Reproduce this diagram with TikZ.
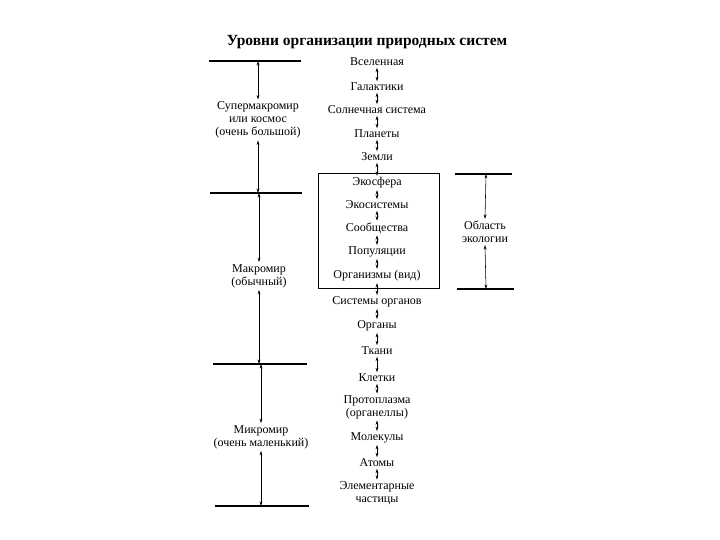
\documentclass[tikz,border=0pt]{standalone}
\usepackage{fontspec}
\setmainfont{Liberation Serif}
\usetikzlibrary{arrows.meta}
\begin{document}
\begin{tikzpicture}[x=1pt,y=-1pt,
  font=\fontsize{12}{13}\selectfont,
  lvl/.style={inner sep=1.5pt, align=center},
  side/.style={inner sep=2pt, align=center},
  link/.style={{Stealth[length=4.5pt,width=2.8pt]}-{Stealth[length=4.5pt,width=2.8pt]}, line width=0.55pt},
  rulel/.style={line width=1.1pt},
  frame/.style={line width=0.9pt}]
\useasboundingbox (0,0) rectangle (720,540);

\node[font=\fontsize{15.5}{17}\selectfont\bfseries] (title) at (367,42) {Уровни организации природных систем};

% right column
\node[lvl] (v1) at (377,62) {Вселенная};
\node[lvl] (v2) at (377,87) {Галактики};
\node[lvl] (v3) at (377,110) {Солнечная система};
\node[lvl] (v4) at (377,134) {Планеты};
\node[lvl] (v5) at (377,157) {Земли};
\node[lvl] (v6) at (377,183) {Экосфера};
\node[lvl] (v7) at (377,205) {Экосистемы};
\node[lvl] (v8) at (377,228) {Сообщества};
\node[lvl] (v9) at (377,252) {Популяции};
\node[lvl] (v10) at (377,276) {Организмы (вид)};
\node[lvl] (v11) at (377,302) {Системы органов};
\node[lvl] (v12) at (377,326) {Органы};
\node[lvl] (v13) at (377,351) {Ткани};
\node[lvl] (v14) at (377,378) {Клетки};
\node[lvl] (v15) at (377,407) {Протоплазма\\(органеллы)};
\node[lvl] (v16) at (377,438) {Молекулы};
\node[lvl] (v17) at (377,463) {Атомы};
\node[lvl] (v18) at (377,493) {Элементарные\\частицы};

\foreach \a/\b in {v1/v2,v2/v3,v3/v4,v4/v5,v5/v6,v6/v7,v7/v8,v8/v9,v9/v10,v10/v11,v11/v12,v12/v13,v13/v14,v14/v15,v15/v16,v16/v17,v17/v18}
  \draw[link] (\a) -- (\b);

% box of ecology
\draw[frame] (318,173) rectangle (439,288);

% left scale
\coordinate (h1) at (258,61);
\coordinate (h2) at (258,193);
\coordinate (h3) at (260,364);
\coordinate (h4) at (262,506);
\draw[rulel] (209,61) -- (301,61);
\draw[rulel] (210,193) -- (302,193);
\draw[rulel] (213,364) -- (307,364);
\draw[rulel] (215,506) -- (309,506);

\node[side] (L1) at (258,120) {Супермакромир\\или космос\\(очень большой)};
\node[side] (L2) at (259,276) {Макромир\\(обычный)};
\node[side] (L3) at (261,437) {Микромир\\(очень маленький)};

\draw[link] (h1) -- (h1 |- L1.north);
\draw[link] (h2 |- L1.south) -- (h2);
\draw[link] (L2.north |- h2) -- (L2.north);
\draw[link] (L2.south) -- (L2.south |- h3);
\draw[link] (L3.north |- h3) -- (L3.north);
\draw[link] (L3.south) -- (L3.south |- h4);

% right scale
\draw[rulel] (455,174) -- (512,174);
\draw[rulel] (457,289) -- (514,289);
\coordinate (r1) at (486,174);
\coordinate (r2) at (486,289);
\node[side] (R) at (485,232) {Область\\экологии};
\draw[link] (r1) -- (R.north);
\draw[link] (R.south) -- (r2);
\end{tikzpicture}
\end{document}
